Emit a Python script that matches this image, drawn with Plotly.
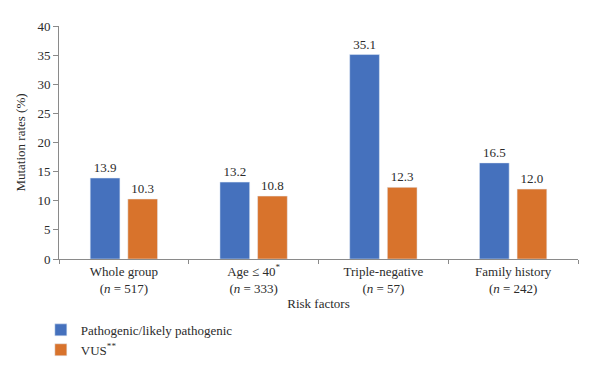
import plotly.graph_objects as go

categories = ["Whole group<br>(<i>n</i> = 517)", "Age ≤ 40<sup>*</sup><br>(<i>n</i> = 333)",
              "Triple-negative<br>(<i>n</i> = 57)", "Family history<br>(<i>n</i> = 242)"]
pathogenic = [13.9, 13.2, 35.1, 16.5]
vus = [10.3, 10.8, 12.3, 12.0]
series_names = ["Pathogenic/likely pathogenic", "VUS<sup>**</sup>"]
y_ticks = [0, 5, 10, 15, 20, 25, 30, 35, 40]

FONT = "Liberation Serif"
FS = 13
TXT = "#2b2b2b"
x = list(range(len(categories)))

fig = go.Figure()
fig.add_trace(go.Bar(x=x, y=pathogenic, name=series_names[0], marker_color="#4571BD",
                     text=[f"{v:.1f}" for v in pathogenic], textposition="outside",
                     textfont=dict(family=FONT, size=FS, color=TXT), cliponaxis=False))
fig.add_trace(go.Bar(x=x, y=vus, name=series_names[1], marker_color="#D8732C",
                     text=[f"{v:.1f}" for v in vus], textposition="outside",
                     textfont=dict(family=FONT, size=FS, color=TXT), cliponaxis=False))

fig.update_layout(
    width=600, height=374,
    margin=dict(l=51, r=30, t=18, b=123, autoexpand=False),
    paper_bgcolor="white", plot_bgcolor="white",
    font=dict(family=FONT, size=FS, color=TXT),
    barmode="group", bargap=0.42, bargroupgap=0.21,
    showlegend=True,
    legend=dict(orientation="v", x=-0.035, xanchor="left", y=-0.24, yanchor="top",
                font=dict(family=FONT, size=FS, color=TXT), tracegroupgap=0,
                itemwidth=30, bgcolor="rgba(0,0,0,0)"),
)
fig.update_xaxes(
    range=[-0.5, 3.5], tickvals=x, ticktext=categories, ticks="", showgrid=False,
    showline=True, linecolor="#8a8a8a", linewidth=1, zeroline=False, automargin=False,
    tickfont=dict(family=FONT, size=FS, color=TXT),
    minor=dict(tick0=0.5, dtick=1, ticks="outside", ticklen=4, tickcolor="#8a8a8a", showgrid=False),
    title=dict(text="Risk factors", font=dict(family=FONT, size=FS, color=TXT), standoff=4),
)
fig.update_yaxes(
    range=[0, 40], tickvals=y_ticks, showgrid=False, showline=True, linecolor="#8a8a8a",
    linewidth=1, ticks="outside", ticklen=5, tickcolor="#8a8a8a", zeroline=False, automargin=False,
    tickfont=dict(family=FONT, size=FS, color=TXT),
    title=dict(text="Mutation rates (%)", font=dict(family=FONT, size=FS, color=TXT), standoff=8),
)

fig.write_html("out.html")
